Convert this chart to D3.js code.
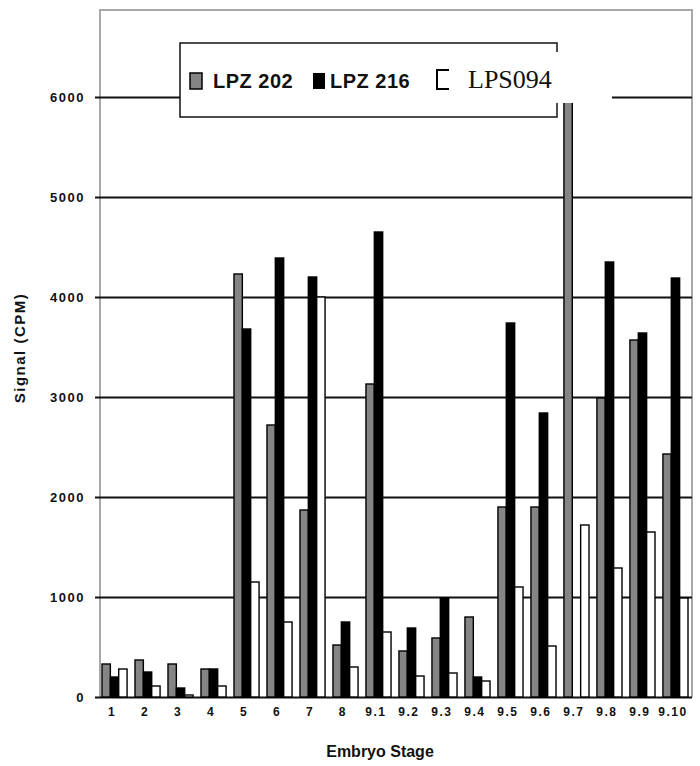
<!DOCTYPE html>
<html>
<head>
<meta charset="utf-8">
<script src="https://cdn.jsdelivr.net/npm/d3@7"></script>
<style>
  body { margin: 0; background: #fff; }
  svg { display: block; }
  text { font-family: "Liberation Sans", Arial, sans-serif; }
</style>
</head>
<body>
<svg class="chart" width="700" height="766"></svg>
<script>
// the svg we draw into
const svg = d3.select('.chart');

// data
const stages = ['1', '2', '3', '4', '5', '6', '7', '8', '9.1', '9.2', '9.3',
    '9.4', '9.5', '9.6', '9.7', '9.8', '9.9', '9.10'];
const seriesNames = ['LPZ 202', 'LPZ 216', 'LPS094'];
const lpz202 = [330, 370, 330, 280, 4230, 2720, 1870, 520, 3130, 460, 590,
    800, 1900, 1900, 6300, 2990, 3570, 2430];
const lpz216 = [200, 250, 90, 280, 3680, 4390, 4200, 750, 4650, 690, 990,
    200, 3740, 2840, 0, 4350, 3640, 4190];
const lps094 = [280, 110, 20, 110, 1150, 750, 4000, 300, 650, 210, 240,
    160, 1100, 510, 1720, 1290, 1650, 990];
const yTicks = [0, 1000, 2000, 3000, 4000, 5000, 6000];

// colours per series
const fills = ['#858585', '#000', '#fff'];

// plot frame
const plotLeft = 100, plotRight = 692, plotTop = 10, plotBottom = 697;

// scales
const x = d3.scaleBand()
    .domain(stages)
    .range([102, 688])
    .paddingInner(0.24)
    .paddingOuter(0);

const x1 = d3.scaleBand()
    .domain(seriesNames)
    .range([0, x.bandwidth()]);

const y = d3.scaleLinear()
    .domain([0, 6000])
    .range([plotBottom, 97]);

// grey frame round the plot
svg.append('path')
    .attr('d', `M${plotLeft},${plotBottom}V${plotTop}H${plotRight}V${plotBottom}`)
    .attr('fill', 'none')
    .attr('stroke', '#a8a8a8')
    .attr('stroke-width', 2);

// y axis: gridlines and labels
const yAxis = svg.append('g')
    .attr('transform', 'translate(95,0)')
    .call(d3.axisLeft(y)
        .tickValues(yTicks)
        .tickFormat(d3.format('d'))
        .tickSize(-(plotRight - 95))
        .tickPadding(10));

yAxis.select('.domain').remove();
yAxis.selectAll('.tick line')
    .attr('stroke', '#111')
    .attr('stroke-width', 2);
yAxis.selectAll('.tick text')
    .attr('font-size', 13)
    .attr('font-weight', 'bold')
    .attr('letter-spacing', 1.5)
    .attr('fill', '#111');

// bars, one group per stage
const rows = stages.map((s, i) => ({
    stage: s,
    values: [lpz202[i], lpz216[i], lps094[i]]
}));

svg.append('g')
    .selectAll('g')
    .data(rows)
    .join('g')
    .attr('transform', d => `translate(${x(d.stage)},0)`)
    .selectAll('rect')
    .data(d => d.values.map((v, k) => ({ key: seriesNames[k], k, v })))
    .join('rect')
    .attr('x', d => x1(d.key))
    .attr('width', x1.bandwidth())
    .attr('y', d => y(d.v))
    .attr('height', d => y(0) - y(d.v))
    .attr('fill', d => fills[d.k])
    .attr('stroke', '#000')
    .attr('stroke-width', d => d.v > 0 ? 1.4 : 0);

// x labels
svg.append('g')
    .selectAll('text')
    .data(stages)
    .join('text')
    .attr('x', d => x(d) + 10)
    .attr('y', 716)
    .attr('text-anchor', 'middle')
    .attr('font-size', 12)
    .attr('font-weight', 'bold')
    .attr('letter-spacing', 1.5)
    .attr('fill', '#111')
    .text(d => d);

// axis titles
svg.append('text')
    .attr('x', 380)
    .attr('y', 757)
    .attr('text-anchor', 'middle')
    .attr('font-size', 16)
    .attr('font-weight', 'bold')
    .attr('fill', '#111')
    .text('Embryo Stage');

svg.append('text')
    .attr('transform', 'translate(25,348) rotate(-90)')
    .attr('text-anchor', 'middle')
    .attr('font-size', 15)
    .attr('font-weight', 'bold')
    .attr('letter-spacing', 1.5)
    .attr('fill', '#111')
    .text('Signal (CPM)');

// legend box, drawn over the plot
const legend = svg.append('g');

legend.append('rect')
    .attr('x', 180)
    .attr('y', 43)
    .attr('width', 377)
    .attr('height', 74)
    .attr('fill', '#fff')
    .attr('stroke', '#111')
    .attr('stroke-width', 1.5);

// white background of the last label spills past the box
legend.append('rect')
    .attr('x', 540)
    .attr('y', 52)
    .attr('width', 72)
    .attr('height', 51)
    .attr('fill', '#fff');

legend.append('rect')
    .attr('x', 190).attr('y', 73)
    .attr('width', 12).attr('height', 16)
    .attr('fill', fills[0])
    .attr('stroke', '#000')
    .attr('stroke-width', 1.5);

legend.append('rect')
    .attr('x', 313).attr('y', 73)
    .attr('width', 12).attr('height', 16)
    .attr('fill', fills[1]);

legend.append('path')
    .attr('d', 'M449,70H437V89H449')
    .attr('fill', 'none')
    .attr('stroke', '#000')
    .attr('stroke-width', 2);

legend.selectAll('text.lz')
    .data([[213, seriesNames[0]], [330, seriesNames[1]]])
    .join('text')
    .attr('class', 'lz')
    .attr('x', d => d[0])
    .attr('y', 88)
    .attr('font-size', 20)
    .attr('font-weight', 'bold')
    .attr('letter-spacing', 0.5)
    .attr('fill', '#111')
    .text(d => d[1]);

legend.append('text')
    .attr('x', 468)
    .attr('y', 88)
    .attr('font-size', 26)
    .style('font-family', '"Liberation Serif", "Times New Roman", serif')
    .attr('fill', '#111')
    .text(seriesNames[2]);
</script>
</body>
</html>
